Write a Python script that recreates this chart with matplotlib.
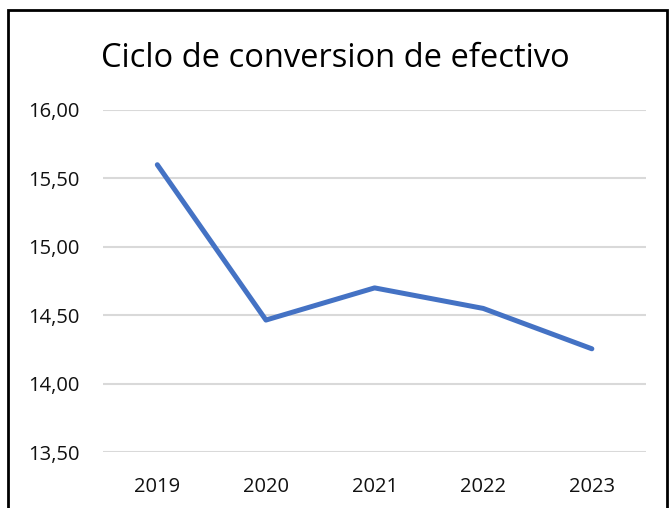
import matplotlib
matplotlib.use('Agg')
import matplotlib.pyplot as plt
from matplotlib.patches import Rectangle
from matplotlib.ticker import FuncFormatter

# Datos del gráfico
years = ['2019', '2020', '2021', '2022', '2023']
ciclo = [15.60, 14.465, 14.70, 14.55, 14.255]
y_ticks = [13.5, 14.0, 14.5, 15.0, 15.5, 16.0]

plt.rcParams['font.family'] = ['Open Sans', 'DejaVu Sans']

fig = plt.figure(figsize=(6.71, 5.08), dpi=100)
ax = fig.add_axes([0.1535, 0.110, 0.8095, 0.6735])

x = range(len(years))
ax.plot(x, ciclo, color='#4472C4', linewidth=3.6, solid_capstyle='round', solid_joinstyle='round', zorder=3)

ax.set_xlim(-0.5, len(years) - 0.5)
ax.set_ylim(13.5, 16.0)
ax.set_yticks(y_ticks)
ax.yaxis.set_major_formatter(FuncFormatter(lambda v, p: f'{v:.2f}'.replace('.', ',')))
ax.set_xticks(list(x))
ax.set_xticklabels(years)

ax.grid(axis='y', color='#D9D9D9', linewidth=1.5)
ax.set_axisbelow(True)
for s in ax.spines.values():
    s.set_visible(False)
ax.tick_params(length=0, labelsize=14.5, colors='#111111')
ax.tick_params(axis='y', pad=17)
ax.tick_params(axis='x', pad=18)

fig.text(0.5, 0.868, 'Ciclo de conversion de efectivo', ha='center', va='baseline',
         fontsize=23.5, color='#000000')

# Borde del gráfico (abierto por abajo)
fig.patches.append(Rectangle((0.012, -0.05), 0.982, 1.03, transform=fig.transFigure,
                             fill=False, edgecolor='black', linewidth=2))

fig.savefig('out.png', dpi=100)
